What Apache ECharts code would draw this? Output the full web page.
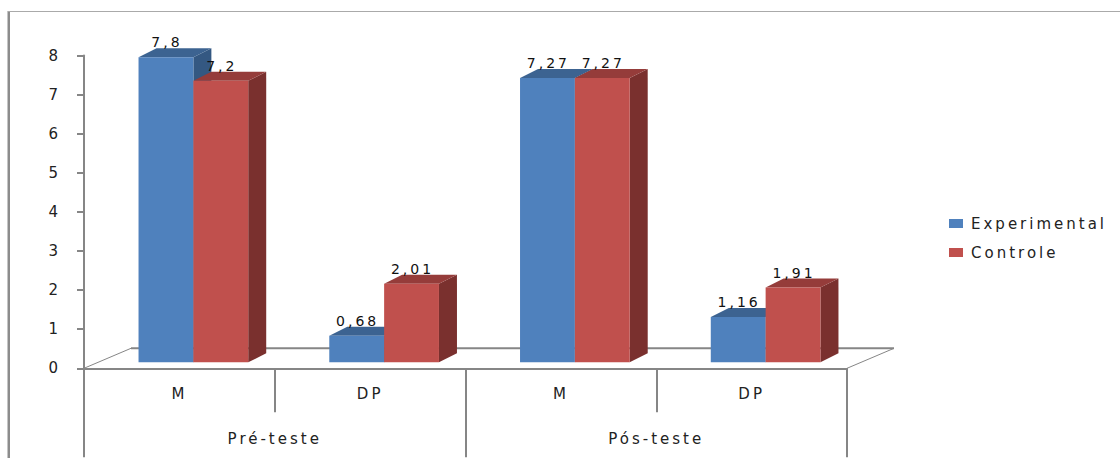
<!DOCTYPE html>
<html>
<head>
<meta charset="utf-8">
<script src="https://cdn.jsdelivr.net/npm/echarts@6/dist/echarts.min.js"></script>
<style>
  html, body { margin: 0; padding: 0; background: #fff; }
  #chart { width: 1120px; height: 459px; }
  /* Wide tracking for every chart text */
  #chart text { letter-spacing: 3px; }
</style>
</head>
<body>
<div id="chart"></div>
<script>
const measures = ['M', 'DP', 'M', 'DP'];
const phases = ['Pré-teste', 'Pós-teste'];
const experimental = [7.8, 0.68, 7.27, 1.16];
const controle = [7.2, 2.01, 7.27, 1.91];
const yTicks = { min: 0, max: 8, interval: 1 };

const GREY = '#868686';
const TEXT = '#222';
const FONT = '"DejaVu Sans", sans-serif';

// Oblique projection used for the box sides and the floor
const DEPTH_X = 18, DEPTH_Y = 9, FLOOR_LIFT = 6;
const FLOOR_X = 47, FLOOR_Y = 20;
const BAR_SHARE = 0.2875, BAR_SHIFT = 14;

const fmt = v => String(v).replace('.', ',');

function box(slot, colors) {
  return function (params, api) {
    const idx = api.value(0), val = api.value(1);
    const band = api.size([1, 0])[0];
    const w = band * BAR_SHARE;
    const top = api.coord([idx, val]);
    const base = api.coord([idx, 0]);
    const x0 = top[0] + BAR_SHIFT + (slot - 1) * w;
    const x1 = x0 + w;
    const yT = top[1] - FLOOR_LIFT, yB = base[1] - FLOOR_LIFT;
    const poly = (points, fill) => ({ type: 'polygon', shape: { points }, style: { fill } });
    return {
      type: 'group',
      children: [
        poly([[x1, yT], [x1 + DEPTH_X, yT - DEPTH_Y], [x1 + DEPTH_X, yB - DEPTH_Y], [x1, yB]], colors.side),
        poly([[x0, yT], [x0 + DEPTH_X, yT - DEPTH_Y], [x1 + DEPTH_X, yT - DEPTH_Y], [x1, yT]], colors.top),
        poly([[x0, yT], [x1, yT], [x1, yB], [x0, yB]], colors.front),
        {
          type: 'text',
          z2: 10,
          style: {
            text: fmt(val), x: (x0 + x1) / 2 + 1, y: yT - 15,
            textAlign: 'center', textVerticalAlign: 'middle',
            fill: '#111', font: '14px ' + FONT
          }
        }
      ]
    };
  };
}

function floor(params) {
  const g = params.coordSys;
  const y0 = g.y + g.height, x0 = g.x, x1 = g.x + g.width;
  const line = (a, b, width) => ({
    type: 'line',
    shape: { x1: a[0], y1: a[1], x2: b[0], y2: b[1] },
    style: { stroke: GREY, lineWidth: width }
  });
  return {
    type: 'group',
    children: [
      line([x0, y0], [x0 + FLOOR_X, y0 - FLOOR_Y], 1),
      line([x0 + FLOOR_X, y0 - FLOOR_Y], [x1 + FLOOR_X, y0 - FLOOR_Y], 2),
      line([x1, y0], [x1 + FLOOR_X, y0 - FLOOR_Y], 1)
    ]
  };
}

const rows = values => values.map((v, i) => [i, v]);
const labelStyle = { color: TEXT, fontFamily: FONT, fontSize: 15 };

const chart = echarts.init(document.getElementById('chart'), null, { renderer: 'svg' });
chart.setOption({
  animation: false,
  backgroundColor: '#fff',
  grid: { left: 84, top: 55.5, width: 763, height: 312.8 },
  legend: {
    data: ['Experimental', 'Controle'],
    orient: 'vertical',
    icon: 'rect',
    left: 944,
    top: 211,
    itemWidth: 14,
    itemHeight: 9,
    itemGap: 14,
    textStyle: { color: TEXT, fontFamily: FONT, fontSize: 15, padding: [0, 0, 0, 3] }
  },
  xAxis: [
    {
      type: 'category',
      data: measures,
      position: 'bottom',
      axisLine: { lineStyle: { color: GREY, width: 2 } },
      axisTick: { show: true, interval: 0, length: 44, lineStyle: { color: GREY, width: 2 } },
      axisLabel: { ...labelStyle, interval: 0, margin: 18 }
    },
    {
      type: 'category',
      data: phases,
      position: 'bottom',
      axisLine: { lineStyle: { color: GREY, width: 2 } },
      axisTick: { show: true, interval: 0, length: 89, lineStyle: { color: GREY, width: 2 } },
      axisLabel: { ...labelStyle, interval: 0, margin: 63 }
    }
  ],
  yAxis: {
    type: 'value',
    min: yTicks.min,
    max: yTicks.max,
    interval: yTicks.interval,
    splitLine: { show: false },
    axisLine: { show: true, lineStyle: { color: GREY, width: 2 } },
    axisTick: { show: true, length: 7, lineStyle: { color: GREY, width: 2 } },
    axisLabel: { ...labelStyle, margin: 23 }
  },
  graphic: [
    { type: 'rect', shape: { x: 7.5, y: 11, width: 2.5, height: 447 }, style: { fill: '#8c8c8c' } },
    { type: 'rect', shape: { x: 8, y: 11, width: 1112, height: 1 }, style: { fill: '#aaaaaa' } }
  ],
  series: [
    {
      type: 'custom',
      name: 'Piso',
      z: 1,
      silent: true,
      renderItem: floor,
      data: [[0, 0]]
    },
    {
      type: 'custom',
      name: 'Experimental',
      z: 3,
      itemStyle: { color: '#4F81BD' },
      renderItem: box(0, { front: '#4F81BD', top: '#3C6391', side: '#345882' }),
      encode: { x: 0, y: 1 },
      data: rows(experimental)
    },
    {
      type: 'custom',
      name: 'Controle',
      z: 4,
      itemStyle: { color: '#C0504D' },
      renderItem: box(1, { front: '#C0504D', top: '#953C3A', side: '#7A302E' }),
      encode: { x: 0, y: 1 },
      data: rows(controle)
    }
  ]
});
</script>
</body>
</html>
